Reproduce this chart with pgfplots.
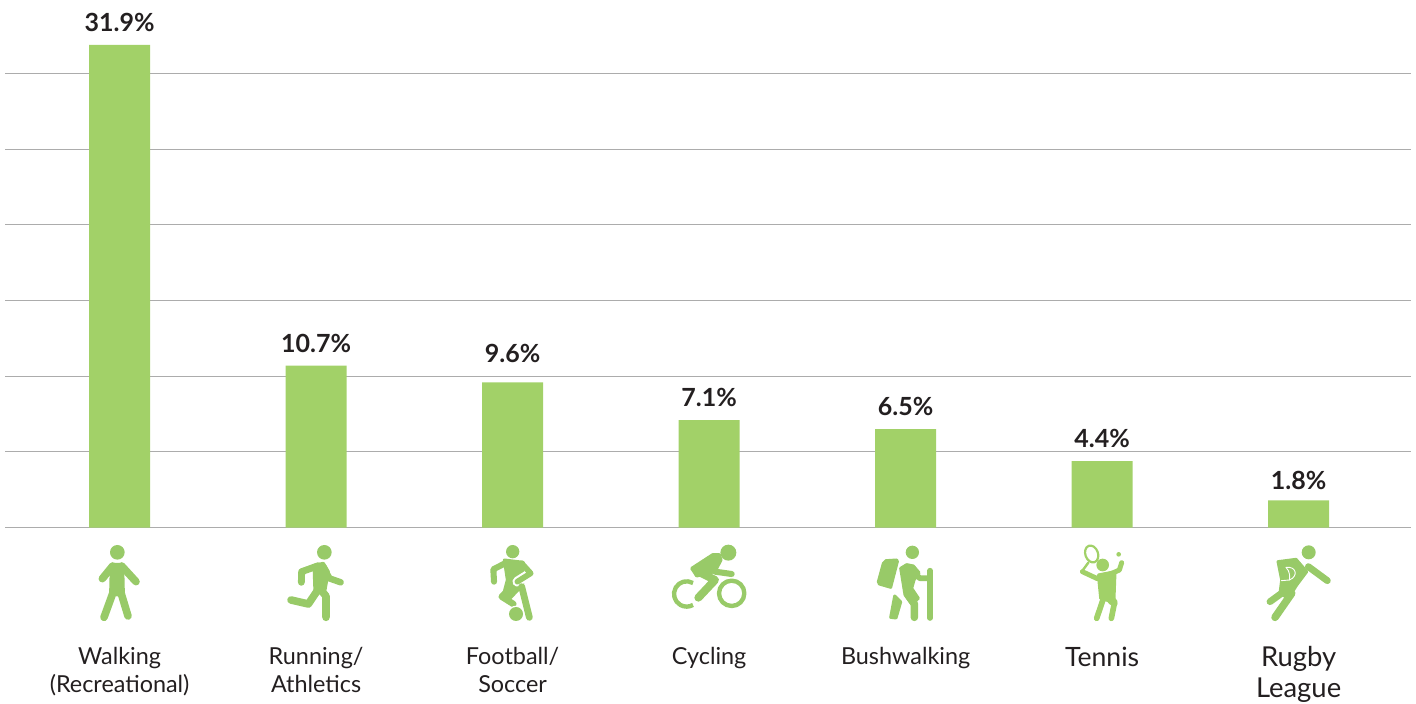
\documentclass[border=0pt]{standalone}
\usepackage{pgfplots}
\pgfplotsset{compat=1.18}
\usepackage{fontspec}
\setmainfont{Lato}
\definecolor{barg}{RGB}{162,209,104}
\definecolor{icong}{RGB}{152,202,104}
\definecolor{icongb}{RGB}{161,209,104}
\definecolor{gridg}{RGB}{172,172,172}
\definecolor{txt}{RGB}{35,31,32}
\tikzset{
  z/.style 2 args={shift={({#1*0.5pt},{352pt-#2*0.5pt})},x=0.16667pt,y=-0.16667pt},
  f/.style={fill=#1,draw=#1,line width=1.5pt,line join=round},
  l/.style 2 args={draw=icong,line width=#1*0.19pt,line cap=round,line join=round,#2},
}
\newcommand\tenf{\fontsize{13.3}{15.5}\selectfont}
\newcommand\rug{\fontsize{13.7}{16}\selectfont}
\begin{document}
\begin{tikzpicture}
\path[use as bounding box] (0,0) rectangle (708pt,352pt);
\begin{axis}[
  at={(2.55pt,88.2pt)},anchor=south west,
  scale only axis,width=703pt,height=242.13pt,
  xmin=-0.5827,xmax=6.5725,ymin=0,ymax=32,
  ytick={0,5,10,15,20,25,30},yticklabels={},
  ymajorgrids,grid style={draw=gridg,line width=0.5pt},
  axis line style={draw=none},
  major tick length=0,
  xtick={0,1,2,3,4,5,6},
  xticklabels={{Walking\\(Recreational)},{Running/\\Athletics},{Football/\\Soccer},{Cycling},{Bushwalking},{\tenf Tennis},{\rug \vphantom{Rugby}\smash{\raisebox{0.6pt}{Rugby}}\\[1pt]\rug League}},
  xticklabel style={align=center,anchor=north,yshift=-59.7pt,font=\fontsize{11.7}{14}\selectfont,text=txt,inner sep=0pt},
  clip=false,
  ybar,bar width=30.5pt,
  point meta=explicit,
  nodes near coords={\pgfmathprintnumber[fixed,precision=1,zerofill,assume math mode=true]{\pgfplotspointmeta}\%},
  nodes near coords style={font=\bfseries\fontsize{12.5}{15}\selectfont,text=txt,anchor=south,inner sep=0pt,yshift=6.5pt},
  coordinate style/.condition={x==2}{yshift=3pt},
  coordinate style/.condition={x==6}{yshift=-1.5pt},
]
\addplot[fill=barg,draw=none] table[meta=y] {
x y
0 31.9
1 10.7
2 9.6
3 7.1
4 6.5
5 4.4
6 1.8
};
\end{axis}
% walking
\begin{scope}[z={60}{530}]
\fill[icong] (172,67) circle (22);
\fill[f=icong] (154,103) -- (188,103) -- (190,185) -- (172,195) -- (152,185) -- cycle;
\draw[l={20}{}] (158,108) -- (127,146);
\draw[l={20}{}] (185,108) -- (228,155);
\draw[l={20}{}] (160,185) -- (132,262);
\draw[l={20}{}] (182,185) -- (204,258);
% running
\fill[icong] (793,67) circle (22);
\fill[f=icong] (762,106) -- (790,100) -- (805,125) -- (795,180) -- (765,192) -- cycle;
\draw[l={18}{}] (775,107) -- (725,125) -- (724,157);
\draw[l={17}{}] (790,110) -- (808,145) -- (842,157);
\draw[l={20}{}] (775,172) -- (798,198) -- (798,262);
\draw[l={20}{}] (770,185) -- (745,222) -- (693,210);
% football
\fill[icong] (1358,65) circle (20);
\fill[f=icong] (1333,90) -- (1390,97) -- (1388,165) -- (1350,205) -- (1330,195) -- (1342,150) -- cycle;
\draw[l={16}{}] (1335,100) -- (1300,118) -- (1302,155);
\draw[l={26}{draw=white}] (1412,130) -- (1372,155);
\draw[l={15}{}] (1385,100) -- (1412,130) -- (1372,155);
\draw[l={18}{}] (1385,170) -- (1408,262);
\draw[l={17}{}] (1350,175) -- (1325,200) -- (1360,222);
\fill[white] (1368,252) circle (25);
\fill[icong] (1368,252) circle (21);
\end{scope}
% cycling, hiking
\begin{scope}[z={640}{530}]
\fill[icong] (265,68) circle (24);
\fill[f=icong] (155,115) -- (218,74) -- (238,74) -- (243,90) -- (225,125) -- (170,138) -- cycle;
\draw[l={16}{}] (225,125) -- (275,132);
\draw[l={11.5}{}] (275,190) circle (38);
\draw[l={11.5}{line cap=butt}] (159,159) arc[start angle=-60,end angle=-300,radius=38];
\draw[l={26}{draw=white,line cap=butt}] (225,152) -- (175,205);
\draw[l={21}{}] (185,130) -- (225,150) -- (175,203);
\fill[icong] (817,67) circle (20);
\fill[f=icong] (738,92) -- (770,90) -- (772,95) -- (752,172) -- (718,162) -- (715,155) -- (730,100) -- cycle;
\fill[f=icong] (782,115) -- (800,104) -- (820,108) -- (837,128) -- (822,150) -- (815,175) -- (835,205) -- (815,222) -- (795,195) -- cycle;
\draw[l={20}{}] (805,195) -- (823,222) -- (823,262);
\draw[l={15}{}] (820,125) -- (840,145) -- (868,145);
\draw[l={15}{line cap=round}] (870,122) -- (870,264);
\fill[f=icong] (764,198) -- (782,216) -- (768,264) -- (752,262) -- cycle;
\end{scope}
% tennis, rugby
\begin{scope}[z={1040}{530}]
\fill[icongb] (188,105) circle (19);
\draw[draw=icongb,line width=1.1pt] (155,72) ellipse [x radius=19,y radius=26,rotate=20];
\draw[draw=icongb,line width=1.2pt,line cap=round] (145,98) -- (125,125);
\draw[l={13}{draw=icongb}] (127,125) -- (172,146);
\draw[l={13}{draw=icongb}] (205,135) -- (238,120) -- (245,98);
\fill[icongb] (236,73) circle (7);
\fill[f=icongb] (175,135) -- (225,125) -- (222,205) -- (228,222) -- (212,220) -- (205,212) -- (182,205) -- cycle;
\draw[l={15}{draw=icongb}] (192,200) -- (170,265);
\draw[l={15}{draw=icongb}] (224,215) -- (214,265);
\fill[icong] (806,67) circle (21);
\fill[f=icong] (714,95) -- (768,88) -- (800,125) -- (770,165) -- (745,205) -- (720,190) -- (725,150) -- cycle;
\draw[l={18}{}] (805,110) -- (862,152);
\draw[l={18}{}] (745,175) -- (690,215);
\draw[l={20}{}] (755,190) -- (705,262);
\draw[draw=white,line width=0.45pt,line cap=round] (738,112) .. controls (770,108) and (775,140) .. (748,150) -- (724,152);
\draw[draw=white,line width=0.45pt,line cap=round] (738,112) .. controls (750,125) and (750,140) .. (748,150);
\end{scope}
\end{tikzpicture}
\end{document}
